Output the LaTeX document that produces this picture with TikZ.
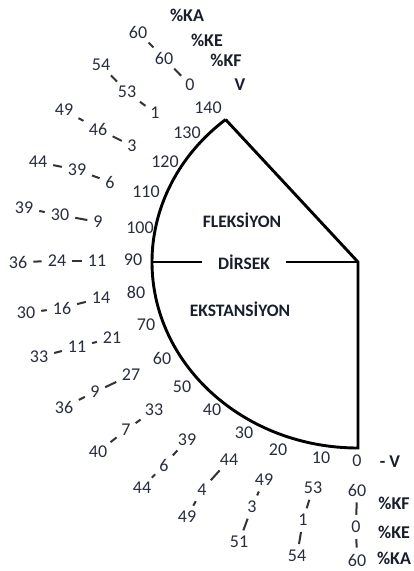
\documentclass[tikz,border=0pt]{standalone}
\usepackage{fontspec}
\usetikzlibrary{calc}
\setmainfont{Carlito}
\definecolor{numcol}{RGB}{40,46,62}
\definecolor{labcol}{RGB}{25,30,45}
\definecolor{dashcol}{RGB}{50,50,55}
\begin{document}
\begin{tikzpicture}[x=1pt,y=-1pt,
  num/.style={inner sep=0pt,text=numcol,font=\fontsize{18}{21}\selectfont},
  deg/.style={inner sep=0pt,text=numcol,font=\fontsize{18}{21}\selectfont},
  lab/.style={inner sep=0pt,text=labcol,font=\fontsize{18}{21}\selectfont\bfseries},
  inlab/.style={inner sep=0pt,text=labcol,font=\fontsize{17.5}{20}\selectfont\bfseries},
  tick/.style={draw=dashcol,line width=2pt,shorten <=6pt,shorten >=6pt},
  outline/.style={draw=black,line width=2.9pt,line join=miter}
]
\useasboundingbox[fill=white] (0,0) rectangle (414,571);

% main shape
\coordinate (C) at (358,262);
\coordinate (B) at (358,448);
\coordinate (L) at (152,262);
\coordinate (A) at ($(358,262)+(230:206 and 186)$);
\draw[outline] (A) -- (C) -- (B) arc[start angle=90,end angle=230,x radius=206,y radius=186];

\node[inlab] (flex) at (242,220) {FLEKSİYON};
\node[inlab,inner xsep=16pt,inner ysep=0pt] (dir) at (244,262) {DİRSEK};
\node[inlab] (ext) at (240,309) {EKSTANSİYON};
\draw[outline] (L) -- (dir.west);
\draw[outline] (dir.east) -- (C);

% degree labels
\node[deg] (d140) at (208,108) {140};
\node[deg] (d130) at (187,133) {130};
\node[deg] (d120) at (165,162) {120};
\node[deg] (d110) at (146,192) {110};
\node[deg] (d100) at (140,228) {100};
\node[deg] (d90) at (133,260) {90};
\node[deg] (d80) at (136,292) {80};
\node[deg] (d70) at (146,325) {70};
\node[deg] (d60) at (162,358) {60};
\node[deg] (d50) at (182,387) {50};
\node[deg] (d40) at (212,410) {40};
\node[deg] (d30) at (244,433) {30};
\node[deg] (d20) at (278,450) {20};
\node[deg] (d10) at (321,458) {10};
\node[deg] (d0) at (357,461) {0};

% column labels
\node[lab] (vtop) at (240,85) {V};
\node[lab] (kftop) at (226,60) {\%KF};
\node[lab] (ketop) at (207,40) {\%KE};
\node[lab] (katop) at (187,15) {\%KA};
\node[lab] (vbot) at (390,462) {- V};
\node[lab] (kfbot) at (394,503) {\%KF};
\node[lab] (kebot) at (394,532) {\%KE};
\node[lab] (kabot) at (394,558) {\%KA};

% triples: f = %KF, e = %KE, a = %KA
\foreach \n/\f/\fx/\fy/\e/\ex/\ey/\a/\ax/\ay in {
  140/0/190/85/60/164/58/60/138/32,
  130/1/155/113/53/127/92/54/101/65,
  120/3/132/146/46/98/129/49/64/110,
  110/6/110/182/39/77/170/44/38/162,
  100/9/98/222/30/60/215/39/24/208,
  90/11/97/261/24/57/261/36/18/262,
  80/14/101/298/16/62/308/30/26/313,
  70/21/112/338/11/77/347/33/39/357,
  60/27/131/375/9/95/392/36/64/407,
  50/33/154/410/7/126/430/40/98/452,
  40/39/187/440/6/164/465/44/142/488,
  30/44/229/460/4/202/490/49/187/517,
  20/49/264/480/3/252/507/51/239/542,
  10/53/313/488/1/303/520/54/297/556,
  0/60/357/490/0/356/527/60/357/560}{
  \node[num] (f\n) at (\fx,\fy) {\f};
  \node[num] (e\n) at (\ex,\ey) {\e};
  \node[num] (a\n) at (\ax,\ay) {\a};
  \draw[tick] (f\n) -- (e\n);
  \draw[tick] (e\n) -- (a\n);
}
\end{tikzpicture}
\end{document}
